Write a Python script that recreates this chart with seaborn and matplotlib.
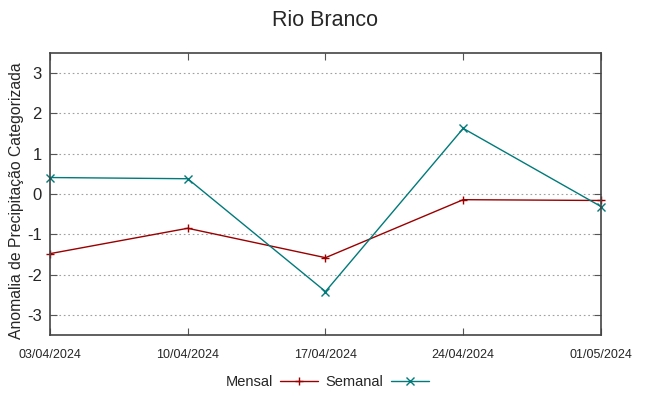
import pandas as pd
import matplotlib
matplotlib.use("Agg")
import matplotlib.pyplot as plt
import matplotlib.dates as mdates
import seaborn as sns

datas = ["2024-04-03", "2024-04-10", "2024-04-17", "2024-04-24", "2024-05-01"]
mensal = [-1.48, -0.85, -1.58, -0.14, -0.16]
semanal = [0.41, 0.38, -2.42, 1.63, -0.31]

sns.set_style("ticks")
plt.rcParams['font.family'] = ['Liberation Sans', 'DejaVu Sans']
plt.rcParams['axes.unicode_minus'] = False

df = pd.DataFrame({
    "data": pd.to_datetime(datas * 2),
    "valor": mensal + semanal,
    "serie": ["Mensal"] * 5 + ["Semanal"] * 5,
})

fig = plt.figure(figsize=(6.49, 3.96), dpi=100)
ax = fig.add_axes([0.077, 0.154, 0.849, 0.712])

cores = {"Mensal": "#9b0000", "Semanal": "#007a7a"}
marcas = {"Mensal": "+", "Semanal": "x"}
for nome in ["Mensal", "Semanal"]:
    sub = df[df.serie == nome]
    sns.lineplot(data=sub, x="data", y="valor", ax=ax, color=cores[nome],
                 marker=marcas[nome], markersize=6, markeredgewidth=1,
                 markeredgecolor=cores[nome], linewidth=1, label=nome,
                 clip_on=False)

ax.set_ylim(-3.5, 3.5)
ax.set_yticks([-3, -2, -1, 0, 1, 2, 3])
ax.set_xlim(df.data.min(), df.data.max())
ax.set_xticks(pd.to_datetime(datas))
ax.xaxis.set_major_formatter(mdates.DateFormatter("%d/%m/%Y"))
ax.grid(axis="y", color="#a0a0a0", linestyle=(0, (1.5, 2.5)), linewidth=0.8)
ax.tick_params(direction="in", top=True, right=True, length=5, color="#555555")
ax.tick_params(axis="y", labelsize=12, pad=6)
ax.tick_params(axis="x", labelsize=9, pad=10)
for s in ax.spines.values():
    s.set_color("#444444")
    s.set_linewidth(1.2)

ax.set_xlabel("")
ax.set_ylabel("Anomalia de Precipitação Categorizada", fontsize=11.3)
ax.yaxis.set_label_coords(-0.048, 0.475)
fig.suptitle("Rio Branco", fontsize=15.5, y=0.975)

ax.legend(loc="center", bbox_to_anchor=(0.503, -0.167), ncol=2,
          frameon=False, markerfirst=False, fontsize=10.5, handlelength=2.6,
          columnspacing=0.5, handletextpad=0.5)

fig.savefig("out.png", dpi=100)
